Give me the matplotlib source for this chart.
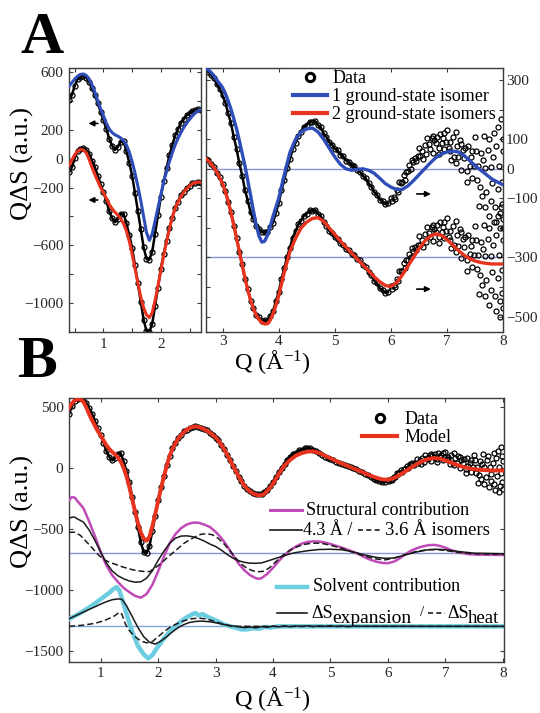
import numpy as np
import matplotlib
matplotlib.use("Agg")
import matplotlib.pyplot as plt
from matplotlib.lines import Line2D

plt.rcParams["font.family"] = ["Liberation Serif", "DejaVu Serif"]
plt.rcParams["mathtext.fontset"] = "custom"
plt.rcParams["mathtext.rm"] = "Liberation Serif"
plt.rcParams["mathtext.it"] = "Liberation Serif:italic"
plt.rcParams["mathtext.bf"] = "Liberation Serif:bold"

# Colores
BLUE = "#2f4db8"
RED = "#e8331f"
MAGENTA = "#c04ab8"
CYAN = "#6ccde0"
BASE = "#8d93d8"
SPINE = "#3c3c3c"
INK = "#1a1a1a"

# Datos medidos (Q en 1/A, Q*dS en u.a.)
data_q = np.round(np.arange(0.40, 5.96, 0.05), 3)
data_s = [405, 440, 503, 550, 567, 573, 560, 532, 486, 442, 383, 324,
          266, 207, 138, 90, 60, 80, 116, 120, 52, -28, -118, -238, -362, -488,
          -612, -692, -698, -642, -518, -392,
          -262, -158, -66, 22, 93, 160, 203, 246, 271, 299, 313, 330, 334, 340,
          333, 329, 316, 306, 286, 271,
          248, 224, 188, 154, 108, 67, 18, -23, -72, -108, -147, -170, -194, -203,
          -214, -213, -214, -198, -182, -148,
          -117, -73, -37, 2, 33, 67, 88, 112, 125, 142, 148, 159, 158, 161,
          148, 140, 120, 108, 90, 82,
          68, 62, 48, 42, 28, 24, 12, 8, -5, -10, -24, -32, -49, -60,
          -78, -88, -104, -110, -120, -116]

# Cola ruidosa de los datos a Q alto
tail_q = np.round(np.arange(6.0, 8.001, 0.025), 3)
tail_s = [-98, -108, -94, -101, -72, -79, -45, -47, -46, -20, -37, -10, -7, 12, 0, 31, 22, 37, 25, 43,
          72, 43, 60, 34, 80, 51, 103, 83, 68, 104, 55, 97, 87, 109, 70, 119, 86, 103, 66, 89,
          132, 70, 89, 31, 106, 41, 125, 77, 40, 96, -3, 64, 36, 70, -7, 77, 11, 40, -31, 9,
          108, -39, 9, -125, 53, -93, 111, 4, -77, 63, -160, 6, -48, 41, -130, 77, -68, 9, -148, -44, 59]
extra_q = [7.52, 7.58, 7.63, 7.68, 7.74, 7.79, 7.84, 7.87, 7.91, 7.94, 7.96,
           7.98, 7.99, 8.00, 7.45, 7.35, 7.25, 7.15, 7.05, 6.95, 6.85, 6.75]
extra_s = [60, -60, 30, -130, 100, -110, 120, -180, 140, -200, 170,
           -120, 100, -170, 60, -45, 85, 20, 60, 120, 50, 110]

# Modelos: 1 isomero y 2 isomeros
model_q = np.round(np.r_[np.arange(0.40, 4.001, 0.05), np.arange(4.1, 8.001, 0.1)], 3)
model1_s = [500, 525, 550, 570, 582, 585, 575, 550, 510, 460, 400, 345, 295, 245, 205, 180,
            165, 155, 143, 125, 95, 45, -20, -100, -190, -290, -400, -510, -565, -520,
            -430, -340, -250, -160, -90, -20, 40, 95, 140, 180, 215, 245, 270, 295, 315,
            330, 340, 335,
            325, 314, 300, 288, 275, 255, 230, 202, 170, 135, 95, 52, 10, -40, -90, -142,
            -190, -228, -248, -245, -225, -195, -160, -130, -100,
            -20, 55, 100, 125, 135, 138, 125, 100, 70, 40, 15, 0, -5, -2, 0, -5, -15,
            -32, -50, -62, -70, -70, -58, -40, -20, 0, 20, 38, 50, 57, 60, 57, 45, 28,
            10, -5, -20, -35, -45, -55]
model2_s = [455, 490, 528, 552, 563, 560, 540, 495, 440, 390, 345, 300, 265, 225, 185, 155,
            130, 110, 85, 50, 0, -70, -160, -260, -360, -455, -530, -580, -598, -565,
            -480, -380, -275, -170, -75, 15, 95, 155, 200, 238, 268, 292, 312, 326, 335,
            338, 335, 327,
            316, 303, 288, 270, 250, 222, 190, 152, 110, 65, 20, -25, -70, -110, -145, -173,
            -195, -210, -220, -225, -224, -212, -190, -162, -130,
            -50, 20, 65, 100, 120, 132, 135, 122, 100, 78, 55, 35, 15, -5, -25, -45, -65,
            -82, -95, -98, -85, -60, -30, 0, 30, 55, 72, 80, 75, 60, 42, 24, 8, -4,
            -12, -17, -20, -22, -22, -22]

# Contribucion estructural (desplazada a -700)
struct_q = [0.45, 0.50, 0.55, 0.60, 0.70, 0.80, 0.90, 1.00, 1.10, 1.20, 1.30, 1.40, 1.50,
            1.60, 1.70, 1.80, 1.90, 2.00, 2.10, 2.20, 2.30, 2.40, 2.50, 2.60, 2.70, 2.80,
            2.90, 3.00, 3.10, 3.20, 3.30, 3.40, 3.50, 3.60, 3.70, 3.75, 3.80, 3.90, 4.00,
            4.10, 4.20, 4.30, 4.40, 4.50, 4.60, 4.70, 4.80, 4.90, 5.00, 5.10, 5.20, 5.30,
            5.40, 5.50, 5.60, 5.70, 5.80, 5.90, 6.00, 6.10, 6.20, 6.30, 6.40, 6.50, 6.60,
            6.70, 6.80, 6.90, 7.00, 7.10, 7.20, 7.30, 7.40, 7.60, 8.05]
struct_s = [-265, -240, -245, -275, -330, -440, -560, -690, -800, -880, -935, -985, -1020,
            -1050, -1065, -1035, -960, -850, -730, -620, -545, -495, -465, -450, -450, -465,
            -485, -525, -575, -640, -715, -785, -840, -880, -905, -910, -905, -870, -820,
            -765, -715, -675, -645, -622, -608, -603, -605, -612, -625, -640, -655, -672,
            -690, -710, -735, -755, -770, -780, -782, -770, -745, -710, -680, -660, -645,
            -635, -632, -640, -655, -675, -690, -700, -708, -713, -715]

iso43_q = [0.45, 0.50, 0.55, 0.60, 0.70, 0.80, 0.90, 1.00, 1.10, 1.20, 1.30, 1.40, 1.50,
           1.60, 1.70, 1.80, 1.90, 2.00, 2.10, 2.20, 2.30, 2.40, 2.50, 2.60, 2.70, 2.80,
           2.90, 3.00, 3.10, 3.20, 3.30, 3.40, 3.50, 3.60, 3.70, 3.80, 3.90, 4.00, 4.10,
           4.20, 4.30, 4.40, 4.60, 4.80, 5.00, 5.20, 5.40, 5.60, 5.80, 5.95, 6.10, 6.30,
           6.50, 6.70, 6.85, 7.00, 7.20, 7.50, 8.05]
iso43_s = [-415, -405, -405, -420, -445, -510, -595, -690, -780, -845, -885, -910, -928,
           -938, -935, -905, -845, -760, -685, -620, -578, -560, -558, -565, -580, -600,
           -625, -645, -675, -710, -740, -762, -775, -782, -783, -780, -765, -750, -735,
           -720, -705, -695, -680, -670, -668, -672, -690, -715, -735, -742, -740, -715,
           -690, -672, -668, -672, -685, -700, -705]

iso36_q = [0.45, 0.55, 0.65, 0.75, 0.85, 0.95, 1.05, 1.15, 1.25, 1.35, 1.45, 1.55, 1.65,
           1.75, 1.85, 1.95, 2.05, 2.15, 2.25, 2.35, 2.45, 2.55, 2.65, 2.75, 2.85, 2.95,
           3.05, 3.15, 3.25, 3.35, 3.45, 3.55, 3.65, 3.75, 3.85, 3.95, 4.05, 4.15, 4.25,
           4.35, 4.45, 4.55, 4.65, 4.75, 4.85, 5.00, 5.20, 5.40, 5.60, 5.80, 5.95, 6.10,
           6.30, 6.50, 6.70, 6.85, 7.00, 7.20, 7.50, 8.05]
iso36_s = [-530, -528, -555, -605, -655, -710, -750, -775, -790, -808, -822, -835, -845,
           -850, -852, -820, -785, -740, -700, -660, -620, -590, -565, -545, -540, -550,
           -580, -625, -680, -740, -790, -825, -845, -852, -848, -815, -770, -725, -690,
           -662, -642, -628, -620, -618, -620, -635, -660, -695, -725, -748, -755, -742,
           -712, -685, -672, -670, -678, -693, -705, -710]

# Contribucion del solvente (desplazada a -1300)
solvent_q = [0.45, 0.55, 0.65, 0.75, 0.85, 0.95, 1.05, 1.15, 1.22, 1.28, 1.33, 1.38, 1.45,
             1.55, 1.65, 1.75, 1.83, 1.90, 2.00, 2.10, 2.20, 2.30, 2.40, 2.50, 2.60, 2.65,
             2.70, 2.78, 2.85, 2.95, 3.05, 3.15, 3.25, 3.35, 3.45, 3.55, 3.65, 3.75, 3.85,
             3.95, 4.10, 8.05]
solvent_s = [-1240, -1215, -1190, -1160, -1130, -1095, -1060, -1025, -995, -978, -1010,
             -1085, -1195, -1345, -1460, -1530, -1562, -1535, -1465, -1400, -1345, -1300,
             -1260, -1225, -1200, -1190, -1210, -1200, -1220, -1240, -1262, -1285, -1300,
             -1310, -1325, -1325, -1315, -1320, -1305, -1310, -1300, -1300]

expansion_q = [0.45, 0.60, 0.75, 0.90, 1.00, 1.10, 1.20, 1.30, 1.37, 1.45, 1.55, 1.65, 1.75,
               1.85, 1.95, 2.05, 2.15, 2.25, 2.35, 2.45, 2.55, 2.65, 2.75, 2.90, 3.05, 3.20,
               3.35, 3.50, 3.60, 3.70, 3.80, 3.90, 4.00, 4.10, 4.20, 4.30, 4.40, 4.50, 4.60,
               4.70, 4.80, 4.90, 5.00, 5.10, 5.20, 5.30, 5.40, 8.05]
expansion_s = [-1238, -1205, -1172, -1140, -1118, -1098, -1082, -1075, -1078, -1130, -1220,
               -1310, -1385, -1430, -1446, -1420, -1385, -1345, -1310, -1285, -1268, -1260,
               -1257, -1262, -1275, -1290, -1300, -1310, -1305, -1312, -1302, -1308, -1298,
               -1304, -1296, -1303, -1297, -1301, -1295, -1302, -1296, -1300, -1294, -1301,
               -1297, -1302, -1299, -1300]

heat_q = [0.45, 0.70, 0.90, 1.05, 1.15, 1.25, 1.32, 1.37, 1.43, 1.50, 1.60, 1.70, 1.80,
          1.90, 2.00, 2.10, 2.20, 2.30, 2.40, 2.55, 2.70, 2.85, 3.00, 3.15, 3.30, 8.05]
heat_s = [-1300, -1290, -1275, -1255, -1235, -1212, -1185, -1200, -1280, -1335, -1385,
          -1420, -1435, -1425, -1385, -1345, -1310, -1285, -1262, -1240, -1232, -1240,
          -1262, -1285, -1300, -1300]

# Desplazamientos verticales usados en el panel A
OFFSET_LEFT = -500
OFFSET_RIGHT = -300

data_s = np.asarray(data_s, dtype=float)
q_all = np.concatenate([data_q, tail_q, extra_q])
s_all = np.concatenate([data_s, tail_s, extra_s]).astype(float)
model1_s = np.asarray(model1_s, dtype=float)
model2_s = np.asarray(model2_s, dtype=float)

data_style = dict(ls="none", marker="o", ms=3.6, mfc="none", mec="k", mew=0.9, zorder=2)


def plot_data(ax, offset=0):
    # banda continua de los datos + circulos abiertos
    ax.plot(data_q, data_s + offset, color="k", lw=1.8, zorder=2)
    ax.plot(q_all, s_all + offset, **data_style)


def estilo(ax):
    for s in ax.spines.values():
        s.set_color(SPINE)
        s.set_linewidth(1.0)
    ax.tick_params(direction="in", length=3, width=0.8, top=True, right=True,
                   labelsize=11, colors=SPINE, labelcolor="#262626", pad=4)


def arrow(ax, x0, x1, y):
    ax.annotate("", xy=(x1, y), xytext=(x0, y),
                arrowprops=dict(arrowstyle="-|>", color="k", lw=1.2, mutation_scale=8))


fig = plt.figure(figsize=(5.4, 7.13), dpi=100)

# Panel A izquierdo
ax_l = fig.add_axes([0.1278, 0.5344, 0.2444, 0.3698])
plot_data(ax_l)
plot_data(ax_l, OFFSET_LEFT)
ax_l.plot(model_q, model1_s, color=BLUE, lw=2.2, zorder=3)
ax_l.plot(model_q, model2_s + OFFSET_LEFT, color=RED, lw=2.2, zorder=3)
arrow(ax_l, 0.95, 0.69, 243)
arrow(ax_l, 0.95, 0.69, -286)
ax_l.set_xlim(0.4, 2.7)
ax_l.set_ylim(-1198, 624)
ax_l.set_xticks([0.5, 1, 1.5, 2, 2.5])
ax_l.set_xticklabels(["", "1", "", "2", ""])
ax_l.set_yticks(np.arange(-1000, 601, 200))
ax_l.set_yticklabels(["\u22121000", "", "\u2212600", "", "\u2212200", "0", "200", "", "600"])
estilo(ax_l)

# Panel A derecho
ax_r = fig.add_axes([0.3809, 0.5344, 0.5511, 0.3698])
ax_r.axhline(0, color=BASE, lw=1.0, zorder=1)
ax_r.axhline(OFFSET_RIGHT, color=BASE, lw=1.0, zorder=1)
plot_data(ax_r)
plot_data(ax_r, OFFSET_RIGHT)
ax_r.plot(model_q, model1_s, color=BLUE, lw=2.4, zorder=3)
ax_r.plot(model_q, model2_s + OFFSET_RIGHT, color=RED, lw=2.4, zorder=3)
arrow(ax_r, 6.41, 6.76, -85)
arrow(ax_r, 6.41, 6.76, -407)
ax_r.set_xlim(2.7, 8.0)
ax_r.set_ylim(-552, 340)
ax_r.set_xticks([3, 4, 5, 6, 7, 8])
ax_r.set_yticks(np.arange(-500, 301, 100))
ax_r.set_yticklabels(["\u2212500", "", "\u2212300", "", "\u2212100", "0", "100", "", "300"])
estilo(ax_r)
ax_r.tick_params(labelleft=False, labelright=True, pad=2)

handles_a = [Line2D([], [], ls="none", marker="o", ms=6, mfc="none", mec="k", mew=2.2),
             Line2D([], [], color=BLUE, lw=3),
             Line2D([], [], color=RED, lw=3)]
ax_r.legend(handles_a, ["Data", "1 ground-state isomer", "2 ground-state isomers"],
            loc="upper right", bbox_to_anchor=(1.0, 1.02), frameon=False, fontsize=13,
            handlelength=1.9, handletextpad=0.3, labelspacing=0.05, borderaxespad=0.2,
            borderpad=0.2)

# Panel B
ax_b = fig.add_axes([0.1278, 0.0719, 0.8056, 0.3694])
ax_b.axhline(-700, color=BASE, lw=1.0, zorder=1)
ax_b.axhline(-1300, color="#7fa6d8", lw=1.0, zorder=1)
plot_data(ax_b)
ax_b.plot(model_q, model2_s, color=RED, lw=2.8, zorder=3)
ax_b.plot(struct_q, struct_s, color=MAGENTA, lw=1.8, zorder=3)
ax_b.plot(iso43_q, iso43_s, color=INK, lw=1.1, zorder=4)
ax_b.plot(iso36_q, iso36_s, color=INK, lw=1.1, ls=(0, (4, 2)), zorder=4)
ax_b.plot(solvent_q, solvent_s, color=CYAN, lw=3.2, zorder=3)
ax_b.plot(expansion_q, expansion_s, color=INK, lw=1.1, zorder=4)
ax_b.plot(heat_q, heat_s, color=INK, lw=1.1, ls=(0, (4, 2)), zorder=4)
ax_b.set_xlim(0.45, 8.02)
ax_b.set_ylim(-1590, 569)
ax_b.set_xticks([1, 2, 3, 4, 5, 6, 7, 8])
ax_b.set_yticks([-1500, -1000, -500, 0, 500])
ax_b.set_yticklabels(["\u22121500", "\u22121000", "\u2212500", "0", "500"])
estilo(ax_b)

handles_b = [Line2D([], [], ls="none", marker="o", ms=6, mfc="none", mec="k", mew=2.2),
             Line2D([], [], color=RED, lw=3)]
ax_b.legend(handles_b, ["Data", "Model"], loc="upper left", bbox_to_anchor=(0.666, 0.966),
            frameon=False, fontsize=13, handlelength=1.9, handletextpad=0.45,
            labelspacing=0.05, borderaxespad=0.0, borderpad=0.2)

# Leyendas de las contribuciones, dibujadas a mano
tr = ax_b.transAxes
ax_b.plot([0.462, 0.535], [0.576, 0.576], color=MAGENTA, lw=2.2, transform=tr)
ax_b.text(0.545, 0.576, "Structural contribution", transform=tr, fontsize=13, va="center")
ax_b.plot([0.462, 0.535], [0.50, 0.50], color=INK, lw=1.2, transform=tr)
ax_b.text(0.539, 0.50, "4.3 Å /", transform=tr, fontsize=13, va="center")
ax_b.plot([0.664, 0.715], [0.50, 0.50], color=INK, lw=1.2, ls=(0, (3, 2)), transform=tr)
ax_b.text(0.726, 0.50, "3.6 Å isomers", transform=tr, fontsize=13.5, va="center")
ax_b.plot([0.477, 0.546], [0.285, 0.285], color=CYAN, lw=3.2, transform=tr)
ax_b.text(0.562, 0.285, "Solvent contribution", transform=tr, fontsize=13, va="center")
ax_b.plot([0.477, 0.546], [0.184, 0.184], color=INK, lw=1.2, transform=tr)
ax_b.text(0.558, 0.165, "ΔS", transform=tr, fontsize=13, va="baseline")
ax_b.text(0.605, 0.146, "expansion", transform=tr, fontsize=14, va="baseline")
ax_b.text(0.806, 0.172, "/", transform=tr, fontsize=11, va="baseline")
ax_b.plot([0.826, 0.864], [0.184, 0.184], color=INK, lw=1.2, ls=(0, (3, 2)), transform=tr)
ax_b.text(0.870, 0.165, "ΔS", transform=tr, fontsize=13, va="baseline")
ax_b.text(0.916, 0.146, "heat", transform=tr, fontsize=13.5, va="baseline")

# Etiquetas de ejes y de paneles
fig.text(0.042, 0.7707, "QΔS (a.u.)", rotation=90, ha="center", va="center", fontsize=19)
fig.text(0.042, 0.2823, "QΔS (a.u.)", rotation=90, ha="center", va="center", fontsize=19)
fig.text(0.504, 0.492, "Q (Å$^{-1}$)", ha="center", va="center", fontsize=17.5)
fig.text(0.504, 0.0196, "Q (Å$^{-1}$)", ha="center", va="center", fontsize=17.5)
fig.text(0.038, 0.925, "A", fontsize=43, fontweight="bold", va="baseline")
fig.text(0.032, 0.471, "B", fontsize=43, fontweight="bold", va="baseline")

fig.savefig("out.png", dpi=100)
